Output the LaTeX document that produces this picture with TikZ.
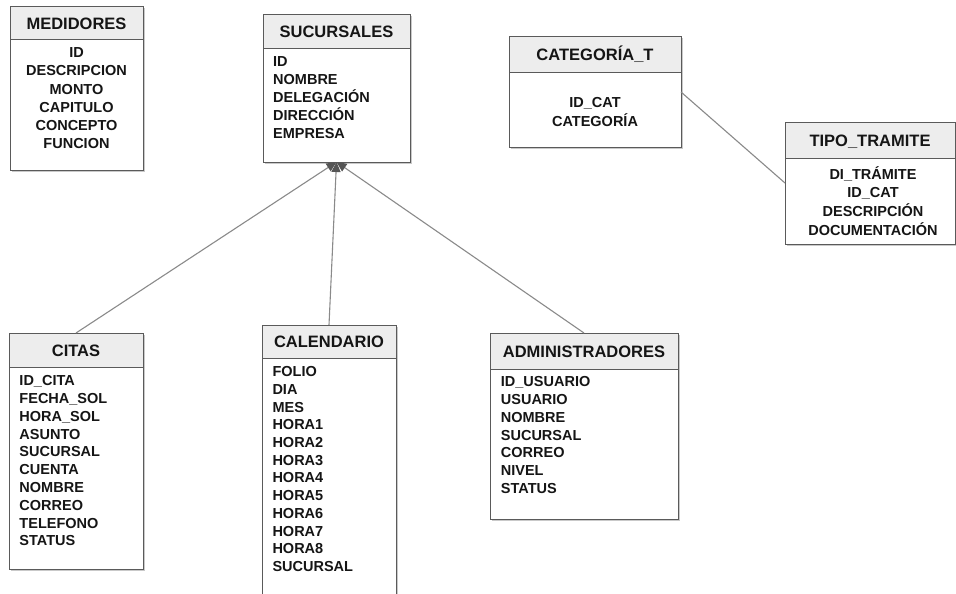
\documentclass[tikz,border=0pt]{standalone}
\usepackage{fontspec}
\setmainfont{Liberation Sans}
\usetikzlibrary{arrows.meta,shadows,calc}

\definecolor{frame}{HTML}{5A5A5A}
\definecolor{headfill}{HTML}{EDEDED}
\definecolor{wire}{HTML}{8A8A8A}
\definecolor{tip}{HTML}{555555}
\definecolor{ink}{HTML}{151515}

\tikzset{
  entity/.style={draw=frame, line width=1pt, fill=white, inner sep=0pt, outer sep=0pt,
    anchor=north west,
    drop shadow={shadow xshift=1.5pt, shadow yshift=-1.5pt, opacity=0.3, fill=black!70}},
  headbar/.style={draw=frame, line width=1pt, fill=headfill, inner sep=0pt, outer sep=0pt,
    anchor=north west},
  tabletitle/.style={font=\fontsize{16.5}{18}\selectfont\bfseries, inner sep=0pt,
    anchor=base, text=ink},
  field/.style={font=\fontsize{14.5}{17}\selectfont\bfseries, inner sep=0pt, text=ink},
  wireline/.style={draw=wire, line width=1.1pt},
  reflink/.style={wireline, -{Triangle[width=9pt,length=10pt,color=tip]}},
}

% table box: name, left, top, right, bottom, header bottom, title
\newcommand\entitybox[7]{%
  \node[entity, minimum width={(#4-#2)*1pt}, minimum height={(#5-#3)*1pt}] (#1) at (#2,#3) {};
  \node[headbar, minimum width={(#4-#2)*1pt}, minimum height={(#6-#3)*1pt}] (#1-head) at (#1.north west) {};
  \node[tabletitle] (#1-title) at ($(#1-head.center)+(0,6)$) {#7};
}
% column list: prefix, anchor, x, first baseline, line step, items
\newcommand\fieldlist[6]{%
  \foreach \txt [count=\k] in {#6} {
    \node[field, anchor=#2] (#1-\k) at (#3, {#4+(\k-1)*#5}) {\txt};
  }
}

\begin{document}
\begin{tikzpicture}[x=1pt, y=-1pt]
  \useasboundingbox (0,0) rectangle (956,594);

  \entitybox{med}{10}{7}{143}{170}{40}{MEDIDORES}
  \fieldlist{medf}{base}{76.5}{58}{18}{ID,DESCRIPCION,MONTO,CAPITULO,CONCEPTO,FUNCION}

  \entitybox{suc}{263}{15}{410}{162}{49}{SUCURSALES}
  \fieldlist{sucf}{base west}{273}{66.7}{17.9}{ID,NOMBRE,DELEGACIÓN,DIRECCIÓN,EMPRESA}

  \entitybox{cat}{509}{37}{681}{147}{73}{CATEGORÍA\_T}
  \fieldlist{catf}{base}{595}{107.5}{18.5}{ID\_CAT,CATEGORÍA}

  \entitybox{tipo}{785}{122}{955}{244}{158}{TIPO\_TRAMITE}
  \fieldlist{tipof}{base}{873}{179}{18.9}{DI\_TRÁMITE,ID\_CAT,DESCRIPCIÓN,DOCUMENTACIÓN}

  \entitybox{cit}{9}{333}{143}{569}{367}{CITAS}
  \fieldlist{citf}{base west}{19.3}{385.7}{17.8}{ID\_CITA,FECHA\_SOL,HORA\_SOL,ASUNTO,SUCURSAL,CUENTA,NOMBRE,CORREO,TELEFONO,STATUS}

  \entitybox{cal}{262}{325}{396}{600}{358}{CALENDARIO}
  \fieldlist{calf}{base west}{272.3}{376.7}{17.7}{FOLIO,DIA,MES,HORA1,HORA2,HORA3,HORA4,HORA5,HORA6,HORA7,HORA8,SUCURSAL}

  \entitybox{adm}{490}{333}{678}{519}{369}{ADMINISTRADORES}
  \fieldlist{admf}{base west}{500.7}{386.7}{17.8}{ID\_USUARIO,USUARIO,NOMBRE,SUCURSAL,CORREO,NIVEL,STATUS}

  % relations
  \draw[reflink] (cit.north) -- (suc.south);
  \draw[reflink] (cal.north) -- (suc.south);
  \draw[reflink] (adm.north) -- (suc.south);
  \draw[wireline] (cat.east) -- (tipo.west);
\end{tikzpicture}
\end{document}
